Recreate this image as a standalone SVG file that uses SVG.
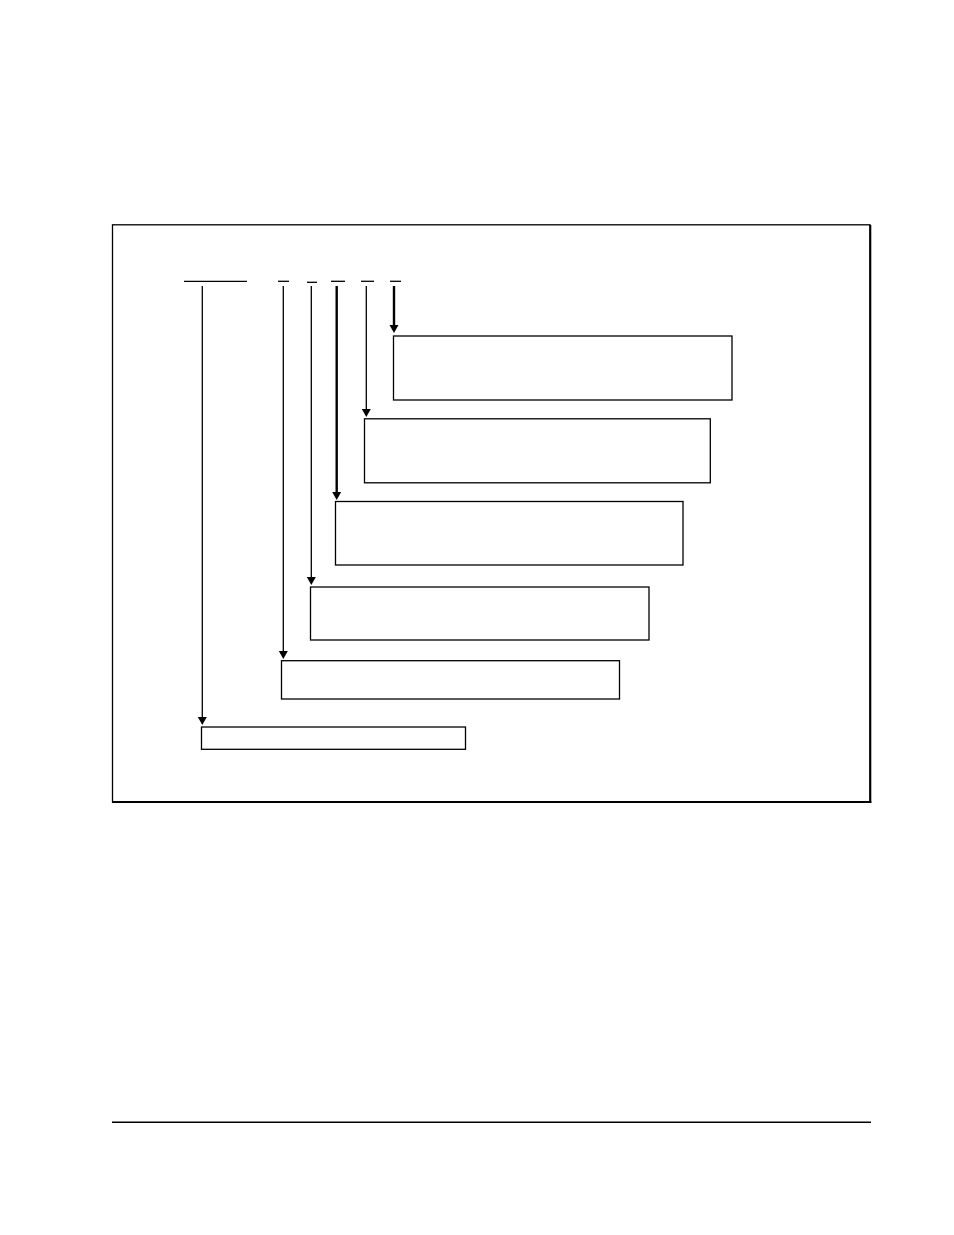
<svg xmlns="http://www.w3.org/2000/svg" width="954" height="1235" viewBox="0 0 954 1235">
<style>
.box{fill:#fff;stroke:#000;stroke-width:1.3}
.bar{stroke:#000;stroke-width:1.3}
.ln{stroke:#000;stroke-width:1.3;fill:none}
.thk{stroke:#000;stroke-width:2.4;fill:none}
.ah{fill:#000}
</style>
<rect width="954" height="1235" fill="#fff"/>
<g id="frame">
<rect x="112.5" y="224.8" width="757.5" height="577" fill="none" stroke="#000" stroke-width="1.3"/>
<line x1="870.3" y1="225" x2="870.3" y2="803" stroke="#000" stroke-width="2"/>
<line x1="112" y1="802" x2="871.3" y2="802" stroke="#000" stroke-width="2"/>
</g>
<g id="bars">
<line class="bar" x1="184" y1="281.3" x2="247" y2="281.3"/>
<line class="bar" x1="278" y1="281.3" x2="289" y2="281.3"/>
<line class="bar" x1="307" y1="282.3" x2="317" y2="282.3"/>
<line class="bar" x1="331" y1="281.3" x2="345" y2="281.3"/>
<line class="bar" x1="361" y1="281.3" x2="374" y2="281.3"/>
<line class="bar" x1="390" y1="281.3" x2="401" y2="281.3"/>
</g>
<g id="connectors">
<line class="ln" x1="202.3" y1="286" x2="202.3" y2="718"/>
<polygon class="ah" points="197.8,717 206.8,717 202.3,725"/>
<line class="ln" x1="283.3" y1="286" x2="283.3" y2="652"/>
<polygon class="ah" points="278.8,651 287.8,651 283.3,659"/>
<line class="ln" x1="311.3" y1="286" x2="311.3" y2="578"/>
<polygon class="ah" points="306.8,577 315.8,577 311.3,585"/>
<line class="thk" x1="336.7" y1="286" x2="336.7" y2="493"/>
<polygon class="ah" points="332.2,492 341.2,492 336.7,500"/>
<line class="ln" x1="366.3" y1="286" x2="366.3" y2="410"/>
<polygon class="ah" points="361.8,409 370.8,409 366.3,417"/>
<line class="thk" x1="394" y1="286" x2="394" y2="326"/>
<polygon class="ah" points="389.5,325 398.5,325 394,333"/>
</g>
<g id="node1"><rect class="box" x="393.5" y="336" width="338.5" height="64"/></g>
<g id="node2"><rect class="box" x="364.5" y="418.8" width="345.8" height="64"/></g>
<g id="node3"><rect class="box" x="335.5" y="501.5" width="347.5" height="63.5"/></g>
<g id="node4"><rect class="box" x="310.5" y="587" width="338.5" height="53"/></g>
<g id="node5"><rect class="box" x="281.5" y="660.7" width="338" height="38.3"/></g>
<g id="node6"><rect class="box" x="201.5" y="727" width="264" height="22.3"/></g>
<g id="footer"><line x1="112" y1="1122.3" x2="871" y2="1122.3" stroke="#000" stroke-width="1.5"/></g>
</svg>
